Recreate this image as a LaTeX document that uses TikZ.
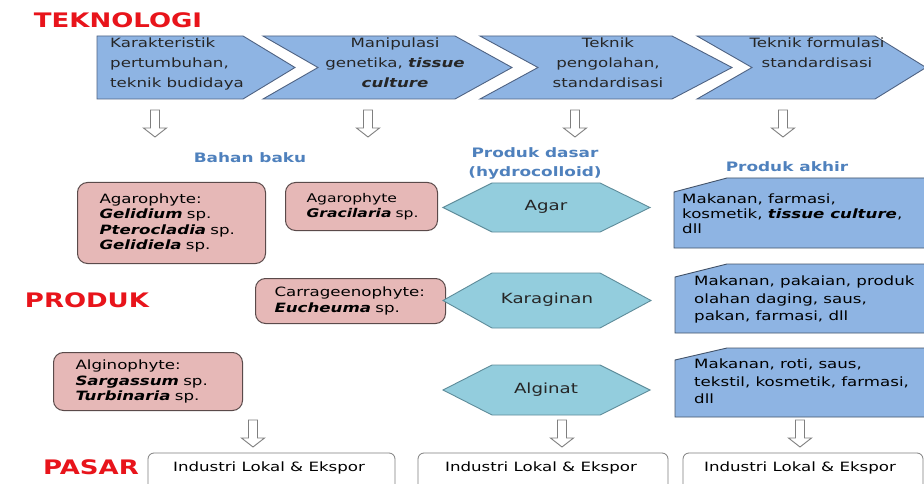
\documentclass[tikz,border=0pt]{standalone}
\usepackage{fontspec}
\setmainfont{DejaVu Sans}[FakeStretch=1.3]
\definecolor{labred}{HTML}{E8141B}
\definecolor{headblue}{HTML}{4F81BD}
\definecolor{chevfill}{HTML}{8EB4E3}
\definecolor{chevline}{HTML}{4F6383}
\definecolor{pinkfill}{HTML}{E6B8B7}
\definecolor{pinkline}{HTML}{5A4A4A}
\definecolor{hexfill}{HTML}{93CDDD}
\definecolor{hexline}{HTML}{5E8C9A}
\definecolor{prodline}{HTML}{44546A}
\definecolor{arrline}{HTML}{7F7F7F}
\newcommand{\spn}[1]{\textbf{\textit{#1}}}
\begin{document}
\begin{tikzpicture}[x=1pt,y=-1pt,
  bigred/.style={text=labred,font=\fontsize{20}{24}\selectfont\bfseries,inner sep=0pt},
  head/.style={text=headblue,font=\fontsize{13}{19}\selectfont\bfseries,inner sep=0pt,align=center},
  chev/.style={fill=chevfill,draw=chevline,line width=0.9pt,line join=miter},
  chevtext/.style={font=\fontsize{12.8}{20}\selectfont,inner sep=0pt,text=black!85},
  pinkbox/.style={fill=pinkfill,draw=pinkline,line width=1pt,rounded corners=10pt,
    font=\fontsize{12.8}{15.5}\selectfont,align=left,inner ysep=0pt,anchor=north west},
  hexa/.style={fill=hexfill,draw=hexline,line width=0.9pt},
  hextext/.style={font=\fontsize{14}{16}\selectfont,inner sep=0pt,text=black!85},
  prodbox/.style={fill=chevfill,draw=prodline,line width=0.9pt},
  prodtext/.style={font=\fontsize{12.8}{17.5}\selectfont,inner sep=0pt,align=left,anchor=north west},
  marketbox/.style={fill=white,draw=arrline,line width=0.8pt,rounded corners=6pt},
  markettext/.style={font=\fontsize{12.8}{16}\selectfont,inner sep=0pt},
  arrowline/.style={fill=white,draw=arrline,line width=0.9pt,line join=miter},
  dnarrow/.pic={\draw[arrowline] (-4.5,0) -- (4.5,0) -- (4.5,18) -- (11.5,18) -- (0,27)
     -- (-11.5,18) -- (-4.5,18) -- cycle;}
]
\useasboundingbox (0,0) rectangle (924,484);
\clip (0,0) rectangle (924,484);
\fill[white] (0,0) rectangle (924,484);

% section labels
\node[bigred] (teknologi) at (118,20) {TEKNOLOGI};
\node[bigred] (produk) at (87,300) {PRODUK};
\node[bigred] (pasar) at (91,467) {PASAR};

% technology chevrons
\draw[chev] (97,36) -- (243,36) -- (295,67.5) -- (243,99) -- (97,99) -- cycle;
\draw[chev] (263,36) -- (455,36) -- (512,67.5) -- (455,99) -- (263,99) -- (318,67.5) -- cycle;
\draw[chev] (480,36) -- (672,36) -- (732,67.5) -- (672,99) -- (480,99) -- (538,67.5) -- cycle;
\draw[chev] (697,36) -- (875,36) -- (926,67.5) -- (875,99) -- (697,99) -- (752,67.5) -- cycle;

\node[chevtext,anchor=north west,align=left] (c1) at (110,38)
  {Karakteristik\\pertumbuhan,\\teknik budidaya};
\node[chevtext,anchor=north,align=center] (c2) at (395,38)
  {Manipulasi\\genetika, \spn{tissue}\\\spn{culture}};
\node[chevtext,anchor=north,align=center] (c3) at (608,38)
  {Teknik\\pengolahan,\\standardisasi};
\node[chevtext,anchor=north,align=center] (c4) at (817,38)
  {Teknik formulasi\\standardisasi};

% arrows below the chevrons
\pic (a1) at (155,110) {dnarrow};
\pic (a2) at (368,110) {dnarrow};
\pic (a3) at (575,110) {dnarrow};
\pic (a4) at (783,110) {dnarrow};

% column headings
\node[head] (hbahan) at (250,158) {Bahan baku};
\node[head] (hdasar) at (535,163) {Produk dasar\\(hydrocolloid)};
\node[head] (hakhir) at (787,167) {Produk akhir};

% raw materials
\node[pinkbox,minimum width=188,minimum height=81,text width=144,inner xsep=22] (gel) at (77,182)
  {Agarophyte:\\\spn{Gelidium}~sp.\\\spn{Pterocladia}~sp.\\\spn{Gelidiela}~sp.};
\node[pinkbox,minimum width=152,minimum height=48,text width=110,inner xsep=21,
      font=\fontsize{12}{15}\selectfont] (gra) at (285,182)
  {Agarophyte\\\spn{Gracilaria}~sp.};
\node[pinkbox,minimum width=190,minimum height=45,text width=152,inner xsep=19] (euc) at (255,278)
  {Carrageenophyte:\\\spn{Eucheuma}~sp.};
\node[pinkbox,minimum width=189,minimum height=58,text width=145,inner xsep=22] (sar) at (53,352)
  {Alginophyte:\\\spn{Sargassum}~sp.\\\spn{Turbinaria}~sp.};

% hydrocolloids
\draw[hexa] (443,207.5) -- (492,183) -- (600,183) -- (650,207.5) -- (600,232) -- (492,232) -- cycle;
\draw[hexa] (443,300.5) -- (492,273) -- (600,273) -- (651,300.5) -- (600,328) -- (492,328) -- cycle;
\draw[hexa] (443,390) -- (492,365) -- (600,365) -- (650,390) -- (600,415) -- (492,415) -- cycle;
\node[hextext] (agar) at (546,207) {Agar};
\node[hextext] (kara) at (547,300) {Karaginan};
\node[hextext] (algi) at (546,390) {Alginat};

% end products
\draw[prodbox] (674,192) -- (727,178) -- (935,178) -- (935,248) -- (674,248) -- cycle;
\draw[prodbox] (675,277) -- (727,264) -- (935,264) -- (935,333) -- (675,333) -- cycle;
\draw[prodbox] (675,360) -- (727,348) -- (935,348) -- (935,417) -- (675,417) -- cycle;
\node[prodtext,font=\fontsize{12.8}{15}\selectfont] (p1) at (682,194)
  {Makanan, farmasi,\\kosmetik, \spn{tissue culture},\\dll};
\node[prodtext] (p2) at (694,276)
  {Makanan, pakaian, produk\\olahan daging, saus,\\pakan, farmasi, dll};
\node[prodtext] (p3) at (694,359)
  {Makanan, roti, saus,\\tekstil, kosmetik, farmasi,\\dll};

% arrows to the market
\pic (b1) at (253,420) {dnarrow};
\pic (b2) at (562,420) {dnarrow};
\pic (b3) at (800,420) {dnarrow};

% market
\draw[marketbox] (148,453) rectangle (395,500);
\draw[marketbox] (418,453) rectangle (668,500);
\draw[marketbox] (683,453) rectangle (923,500);
\node[markettext] (m1) at (269,468) {Industri Lokal \& Ekspor};
\node[markettext] (m2) at (541,468) {Industri Lokal \& Ekspor};
\node[markettext] (m3) at (800,468) {Industri Lokal \& Ekspor};
\end{tikzpicture}
\end{document}
